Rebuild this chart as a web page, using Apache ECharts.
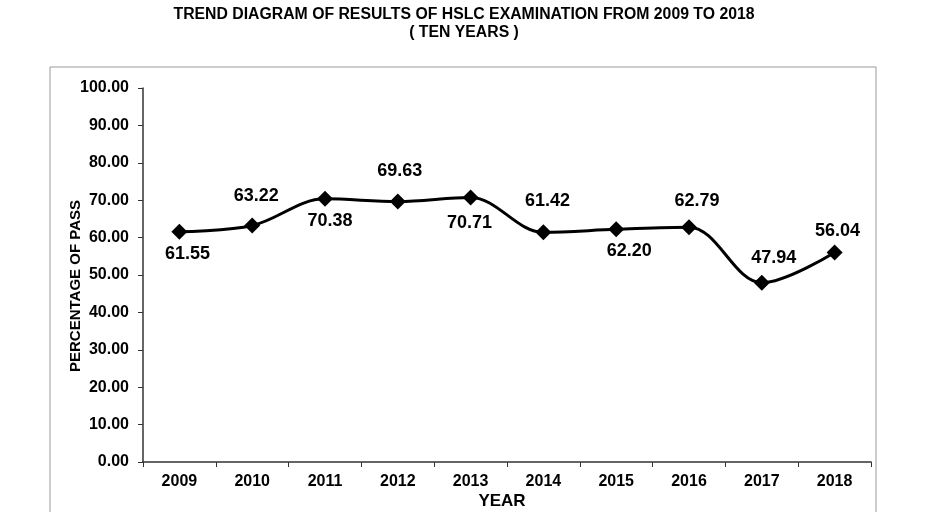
<!DOCTYPE html>
<html><head><meta charset="utf-8">
<script src="https://cdn.jsdelivr.net/npm/echarts@6/dist/echarts.min.js"></script>
<style>html,body{margin:0;padding:0;background:#fff}#c{width:928px;height:512px}</style>
</head><body><div id="c"></div>
<script>
var years = ['2009','2010','2011','2012','2013','2014','2015','2016','2017','2018'];
var passPct = [61.55, 63.22, 70.38, 69.63, 70.71, 61.42, 62.20, 62.79, 47.94, 56.04];
var yTicks = [0,10,20,30,40,50,60,70,80,90,100];
var labelSide = ['bottom','top','bottom','top','bottom','top','bottom','top','top','top'];
var labelShift = [[8,0],[4,-1],[5,0],[2,-2],[-1,3],[4,-3],[13,0],[8,2],[12,4],[3,7]];

var chart = echarts.init(document.getElementById('c'));
var font = 'Liberation Sans, Arial, sans-serif';
chart.setOption({
  animation:false,
  backgroundColor:'#fff',
  title:{
    text:'TREND DIAGRAM OF RESULTS OF HSLC EXAMINATION FROM 2009 TO 2018\n( TEN YEARS )',
    left:'center', top:1,
    textStyle:{fontFamily:font, fontSize:15.8, fontWeight:'bold', color:'#000', lineHeight:18}
  },
  graphic:[{type:'rect', shape:{x:50,y:67,width:826,height:460}, style:{fill:'none', stroke:'#9a9a9a', lineWidth:1}, silent:true}],
  grid:{left:143, right:57, top:88, bottom:50, containLabel:false, outerBoundsMode:'none'},
  xAxis:{
    type:'category', data:years, boundaryGap:true,
    name:'YEAR', nameLocation:'middle', nameGap:31, nameMoveOverlap:false,
    nameTextStyle:{fontFamily:font, fontSize:17, fontWeight:'bold', color:'#000', padding:[0,10,0,0]},
    axisLine:{lineStyle:{color:'#333', width:1.5}},
    axisTick:{show:true, inside:false, length:5, alignWithLabel:false, lineStyle:{color:'#333'}},
    axisLabel:{fontFamily:font, fontSize:16, fontWeight:'bold', color:'#000', margin:12}
  },
  yAxis:{
    type:'value', min:yTicks[0], max:yTicks[yTicks.length-1], interval:yTicks[1]-yTicks[0],
    name:'PERCENTAGE OF PASS', nameLocation:'middle', nameGap:60, nameRotate:90, nameMoveOverlap:false,
    nameTextStyle:{fontFamily:font, fontSize:15, fontWeight:'bold', color:'#000', padding:[0,22,0,0]},
    axisLine:{show:true, lineStyle:{color:'#333', width:1.5}},
    axisTick:{show:true, length:5, lineStyle:{color:'#333'}},
    splitLine:{show:false},
    axisLabel:{fontFamily:font, fontSize:16, fontWeight:'bold', color:'#000', margin:14,
      formatter:function(v){return v.toFixed(2);}}
  },
  series:[{
    type:'line', smooth:0.35,
    data: passPct.map(function(v,i){
      return {value:v, label:{position:labelSide[i], offset:labelShift[i], distance: labelSide[i]==='top'?11.5:5}};
    }),
    symbol:'diamond', symbolSize:16,
    lineStyle:{color:'#000', width:3},
    itemStyle:{color:'#000'},
    label:{show:true, fontFamily:font, fontSize:18, fontWeight:'bold', color:'#000',
      formatter:function(p){return p.value.toFixed(2);}}
  }]
});
</script></body></html>
